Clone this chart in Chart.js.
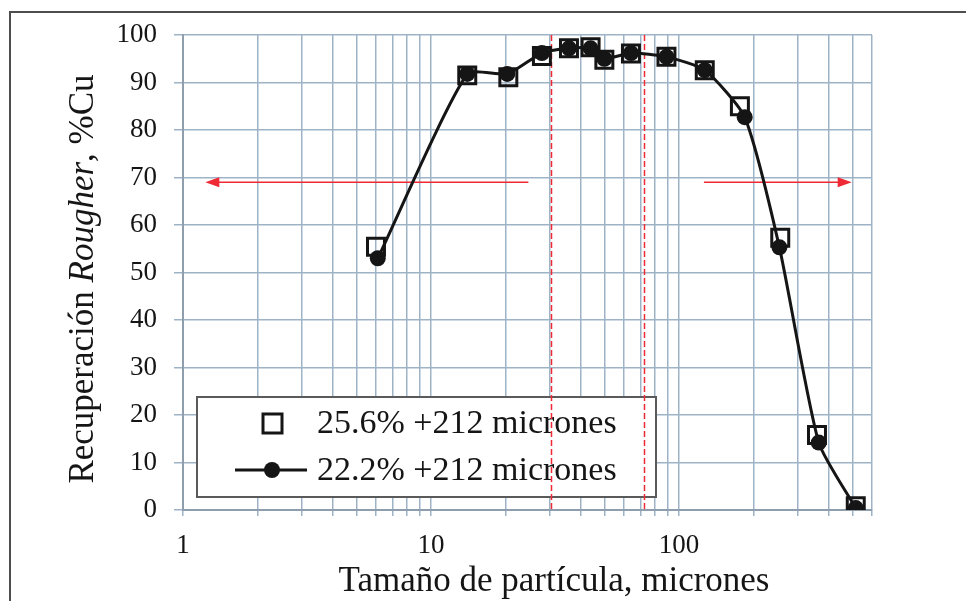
<!DOCTYPE html>
<html>
<head>
<meta charset="utf-8">
<script src="https://cdn.jsdelivr.net/npm/chart.js@4"></script>
<style>
  html, body { margin: 0; padding: 0; background: #ffffff; }
  #wrap { width: 966px; height: 601px; position: relative; }
</style>
</head>
<body>
<div id="wrap"><canvas id="c" width="966" height="601"></canvas></div>
<script>
// Particle size (microns) for each sieve fraction
const sizesA = [6, 14, 20.5, 28, 36, 44, 50, 64, 89, 127, 176, 256, 360, 516];
const sizesB = [6.1, 14, 20.3, 28, 36, 44, 50, 64, 89, 127, 184, 254, 366, 516];
// Rougher copper recovery (%) per fraction
const recovery256 = [55.4, 91.5, 91.1, 95.6, 97.2, 97.4, 94.8, 96.1, 95.4, 92.6, 85.0, 57.3, 15.8, 0.8];
const recovery222 = [53.0, 91.8, 91.8, 96.2, 97.2, 97.2, 95.0, 96.2, 95.4, 92.6, 82.7, 55.3, 14.2, 0.4];

const seriesNames = ['25.6% +212 micrones', '22.2% +212 micrones'];

// Axis ticks
const xTicks = [1, 2, 3, 4, 5, 6, 7, 8, 9, 10, 20, 30, 40, 50, 60, 70, 80, 90, 100, 200, 300, 400, 500, 600];
const xLabelled = [1, 10, 100];
const yTicks = [0, 10, 20, 30, 40, 50, 60, 70, 80, 90, 100];

// Optimum size window (dashed) and the arrows pointing out of it
const windowBounds = [30.6, 72];
const arrowLevel = 69;
const arrowLeft = [24.7, 1.23];   // tail, head
const arrowRight = [126, 497];    // tail, head

const SERIF = '"Liberation Serif", "Times New Roman", serif';
const GRID = '#9fb3c7';
const RED = '#ee2a34';
const INK = '#151515';

function arrow(ctx, x0, x1, y) {
  const dir = Math.sign(x1 - x0);
  ctx.beginPath();
  ctx.moveTo(x0, y);
  ctx.lineTo(x1 - dir * 10, y);
  ctx.stroke();
  ctx.beginPath();
  ctx.moveTo(x1, y);
  ctx.lineTo(x1 - dir * 14, y - 5);
  ctx.lineTo(x1 - dir * 14, y + 5);
  ctx.closePath();
  ctx.fill();
}

const decorations = {
  id: 'decorations',
  beforeDraw(chart) {
    const ctx = chart.ctx;
    ctx.save();
    ctx.fillStyle = '#ffffff';
    ctx.fillRect(0, 0, chart.width, chart.height);
    // page frame
    ctx.strokeStyle = '#4d4d4d';
    ctx.lineWidth = 2;
    ctx.beginPath();
    ctx.moveTo(10, chart.height);
    ctx.lineTo(10, 12);
    ctx.lineTo(chart.width, 12);
    ctx.stroke();
    ctx.restore();
  },
  beforeDatasetsDraw(chart) {
    const { ctx, scales: { x, y }, chartArea } = chart;
    ctx.save();

    // legend box
    ctx.fillStyle = '#ffffff';
    ctx.fillRect(197, 397, 459, 100);
    ctx.strokeStyle = '#5a5a5a';
    ctx.lineWidth = 2;
    ctx.strokeRect(197, 397, 459, 100);

    // legend entry 1: open square
    ctx.strokeStyle = INK;
    ctx.lineWidth = 3;
    ctx.strokeRect(263, 414, 19, 19);
    // legend entry 2: line with dot
    ctx.beginPath();
    ctx.moveTo(235, 470);
    ctx.lineTo(307, 470);
    ctx.lineWidth = 3;
    ctx.stroke();
    ctx.fillStyle = INK;
    ctx.beginPath();
    ctx.arc(272, 470, 8, 0, Math.PI * 2);
    ctx.fill();

    ctx.fillStyle = INK;
    ctx.font = '34px ' + SERIF;
    ctx.textAlign = 'left';
    ctx.textBaseline = 'middle';
    ctx.fillText(seriesNames[0], 317, 424);
    ctx.fillText(seriesNames[1], 317, 471);

    // dashed size window
    ctx.strokeStyle = RED;
    ctx.lineWidth = 1.5;
    ctx.setLineDash([6, 3]);
    windowBounds.forEach(v => {
      const px = Math.round(x.getPixelForValue(v)) + 0.5;
      ctx.beginPath();
      ctx.moveTo(px, chartArea.top);
      ctx.lineTo(px, chartArea.bottom);
      ctx.stroke();
    });
    ctx.setLineDash([]);

    // arrows
    ctx.fillStyle = RED;
    ctx.lineWidth = 1.6;
    const ay = y.getPixelForValue(arrowLevel);
    arrow(ctx, x.getPixelForValue(arrowLeft[0]), x.getPixelForValue(arrowLeft[1]), ay);
    arrow(ctx, x.getPixelForValue(arrowRight[0]), x.getPixelForValue(arrowRight[1]), ay);
    ctx.restore();
  },
  afterDraw(chart) {
    const ctx = chart.ctx;
    ctx.save();
    ctx.fillStyle = INK;

    // x axis title
    ctx.font = '35px ' + SERIF;
    ctx.textAlign = 'center';
    ctx.textBaseline = 'alphabetic';
    ctx.fillText('Tamaño de partícula, micrones', 554, 591);

    // y axis title, with the italic word
    const parts = [
      ['Recuperación ', '35px ' + SERIF],
      ['Rougher', 'italic 35px ' + SERIF],
      [', %Cu', '35px ' + SERIF]
    ];
    let total = 0;
    parts.forEach(p => { ctx.font = p[1]; total += ctx.measureText(p[0]).width; });
    ctx.translate(93, 279);
    ctx.rotate(-Math.PI / 2);
    ctx.textAlign = 'left';
    let cx = -total / 2;
    parts.forEach(p => {
      ctx.font = p[1];
      ctx.fillText(p[0], cx, 0);
      cx += ctx.measureText(p[0]).width;
    });
    ctx.restore();
  }
};

new Chart(document.getElementById('c'), {
  type: 'line',
  data: {
    datasets: [
      {
        label: seriesNames[0],
        data: sizesA.map((s, i) => ({ x: s, y: recovery256[i] })),
        showLine: false,
        pointStyle: 'rect',
        pointRadius: 12,
        pointBorderWidth: 3,
        pointBorderColor: INK,
        pointBackgroundColor: 'rgba(0,0,0,0)',
        order: 0
      },
      {
        label: seriesNames[1],
        data: sizesB.map((s, i) => ({ x: s, y: recovery222[i] })),
        borderColor: INK,
        borderWidth: 3,
        tension: 0.2,
        pointStyle: 'circle',
        pointRadius: 8,
        pointBorderWidth: 0,
        pointBackgroundColor: INK,
        order: 1
      }
    ]
  },
  options: {
    responsive: false,
    animation: false,
    devicePixelRatio: 1,
    layout: { padding: { left: 0, top: 35, right: 94, bottom: 0 } },
    plugins: {
      legend: { display: false },
      tooltip: { enabled: false }
    },
    scales: {
      x: {
        type: 'logarithmic',
        min: 1,
        max: 600,
        afterBuildTicks(scale) { scale.ticks = xTicks.map(v => ({ value: v })); },
        afterFit(scale) { scale.height = 91; },
        grid: { color: GRID, lineWidth: 1.5, tickLength: 6, tickColor: GRID },
        border: { color: '#8f9eac', width: 2 },
        ticks: {
          autoSkip: false,
          maxRotation: 0,
          padding: 14,
          color: INK,
          font: { family: SERIF, size: 27 },
          callback: v => (xLabelled.includes(v) ? String(v) : '')
        }
      },
      y: {
        min: 0,
        max: 100,
        afterBuildTicks(scale) { scale.ticks = yTicks.map(v => ({ value: v })); },
        afterFit(scale) { scale.width = 183; },
        grid: { color: GRID, lineWidth: 1.5, tickLength: 9, tickColor: GRID },
        border: { color: '#8f9eac', width: 2 },
        ticks: {
          padding: 17,
          color: INK,
          font: { family: SERIF, size: 27 }
        }
      }
    }
  },
  plugins: [decorations]
});
</script>
</body>
</html>
